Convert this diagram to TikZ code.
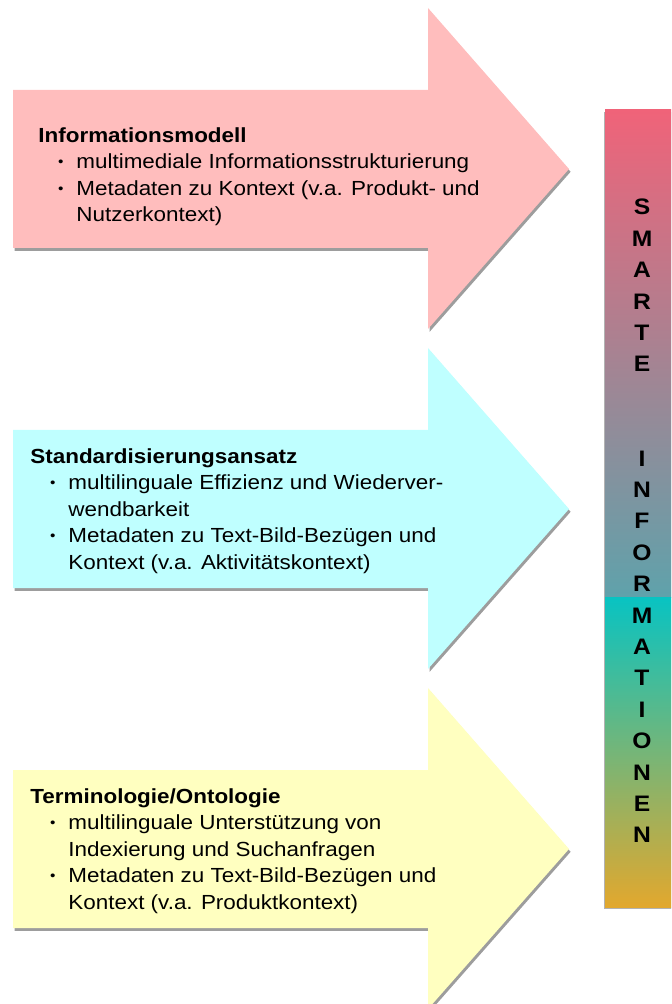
\documentclass[tikz,border=0pt]{standalone}
\usepackage{fontspec}
\setmainfont{Liberation Sans}[FakeStretch=1.1]
\usetikzlibrary{shadows}
\definecolor{rosa}{HTML}{FFBDBD}
\definecolor{hellblau}{HTML}{BFFFFF}
\definecolor{hellgelb}{HTML}{FFFFC0}
\newcommand{\punkt}{\makebox[19pt][l]{\hspace{9.8pt}\raisebox{1.1pt}{\fontsize{7}{7}\selectfont\textbullet}}}
\newcommand{\ein}{\hspace*{19pt}}
\tikzset{
	pfeil/.style={drop shadow={shadow xshift=0.8pt,shadow yshift=-1.4pt,fill=black!70,opacity=0.55}},
	inhalt/.style={anchor=north west,inner sep=0pt,align=left,font=\fontsize{10.2}{13.3}\selectfont},
	buchstaben/.style={align=center,inner sep=0pt,font=\fontsize{11.2}{15.7}\selectfont\bfseries},
}
\begin{document}
\begin{tikzpicture}[x=0.5pt,y=-0.5pt]
	\useasboundingbox (0,0) rectangle (671,1004);
	\clip (0,0) rectangle (671,1004);
	\foreach \farbe [count=\i from 0] in {rosa,hellblau,hellgelb}
		\fill[\farbe,pfeil] (13,90+340*\i) -- (428,90+340*\i) -- (428,8+340*\i) -- (569,169+340*\i) -- (428,329+340*\i) -- (428,248+340*\i) -- (13,248+340*\i) -- cycle;
	\fill[white,drop shadow={shadow xshift=-0.6pt,shadow yshift=-1.2pt,fill=black!60,opacity=0.5}] (605,110) rectangle (680,907);
	\shade[top color={rgb,255:red,240;green,99;blue,121},middle color={rgb,255:red,165;green,140;blue,156},bottom color={rgb,255:red,95;green,162;blue,171}] (605,110) rectangle (680,597);
	\shade[top color={rgb,255:red,8;green,195;blue,194},middle color={rgb,255:red,98;green,187;blue,160},bottom color={rgb,255:red,226;green,168;blue,46}] (605,597) rectangle (680,907);
	\node[buchstaben] (smarte) at (642,521) {S\\M\\A\\R\\T\\E\\[31.4pt]I\\N\\F\\O\\R\\M\\A\\T\\I\\O\\N\\E\\N};
	\node[inhalt] (infomodell) at (38,127) {\textbf{Informationsmodell}\\\punkt multimediale Informationsstrukturierung\\\punkt Metadaten zu Kontext (v.a. Produkt- und\\\ein Nutzerkontext)};
	\node[inhalt] (standard) at (30,448) {\textbf{Standardisierungsansatz}\\\punkt multilinguale Effizienz und Wiederver-\\\ein wendbarkeit\\\punkt Metadaten zu Text-Bild-Bez\"ugen und\\\ein Kontext (v.a. Aktivit\"atskontext)};
	\node[inhalt] (termino) at (30,788) {\textbf{Terminologie/Ontologie}\\\punkt multilinguale Unterst\"utzung von\\\ein Indexierung und Suchanfragen\\\punkt Metadaten zu Text-Bild-Bez\"ugen und\\\ein Kontext (v.a. Produktkontext)};
\end{tikzpicture}
\end{document}
